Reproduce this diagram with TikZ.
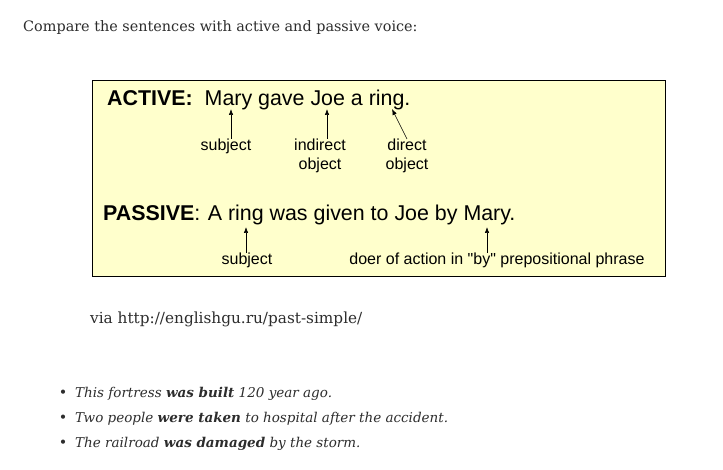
\documentclass[tikz,border=0pt]{standalone}
\usepackage{fontspec}
\setmainfont{DejaVu Serif}
\newfontfamily\boxfont{Liberation Sans}
\usetikzlibrary{arrows.meta}

\definecolor{notepad}{RGB}{255,255,204}
\definecolor{bodytext}{RGB}{45,45,45}

\tikzset{
  sentence/.style={anchor=base west, inner sep=0pt, font=\boxfont\fontsize{21.4}{25}\selectfont},
  tag/.style={anchor=north, inner sep=0pt, align=center, font=\boxfont\fontsize{16}{19}\selectfont},
  pointer/.style={-{Latex[length=6pt,width=4.5pt]}, semithick},
  prose/.style={anchor=base west, inner sep=0pt, text=bodytext, font=\fontsize{14.4}{18}\selectfont},
}

\begin{document}
\begin{tikzpicture}[x=1pt,y=-1pt]
    \useasboundingbox (0,0) rectangle (723,470);
    \fill[white] (0,0) rectangle (723,470);

    % Intro line above the box
    \node[prose] (intro) at (23,32) {Compare the sentences with active and passive voice:};

    % Yellow box with black outline
    \filldraw[notepad, draw=black] (92,80) rectangle (665,276);

    % Active sentence and its parts
    \node[sentence] (active) at (107,106) {\textbf{ACTIVE:}\ \ Mary gave Joe a ring.};
    \coordinate (pMary) at (231,109);
    \coordinate (pJoe) at (327,109);
    \coordinate (pRing) at (392,109);
    \node[tag] (subjA) at (226,139) {subject};
    \node[tag] (indobj) at (320,139) {indirect\\object};
    \node[tag] (dirobj) at (407,139) {direct\\object};
    \draw[pointer] (subjA.north -| pMary) -- (pMary);
    \draw[pointer] (indobj.north -| pJoe) -- (pJoe);
    \draw[pointer] (dirobj.north) -- (pRing);

    % Passive sentence and its parts
    \node[sentence] (passive) at (103,221) {\textbf{PASSIVE}:\hspace{0.35em}A ring was given to Joe by Mary.};
    \coordinate (pRingB) at (246,227);
    \coordinate (pMaryB) at (487,227);
    \node[tag] (subjB) at (247,253) {subject};
    \node[tag] (doer) at (497,253) {doer of action in "by" prepositional phrase};
    \draw[pointer] (subjB.north -| pRingB) -- (pRingB);
    \draw[pointer] (doer.north -| pMaryB) -- (pMaryB);

    % Source line
    \node[prose, font=\fontsize{15.3}{18}\selectfont] (source) at (90,324) {via http://englishgu.ru/past-simple/};

    % Example list
    \foreach \i/\txt in {1/{This fortress \textbf{was built} 120 year ago.},
                         2/{Two people \textbf{were taken} to hospital after the accident.},
                         3/{The railroad \textbf{was damaged} by the storm.}} {
      \node[prose, anchor=base] (dot\i) at (63,372+25*\i) {\textbullet};
      \node[prose, font=\itshape\fontsize{13.5}{18}\selectfont] (item\i) at (75,372+25*\i) {\txt};
    }
\end{tikzpicture}
\end{document}
